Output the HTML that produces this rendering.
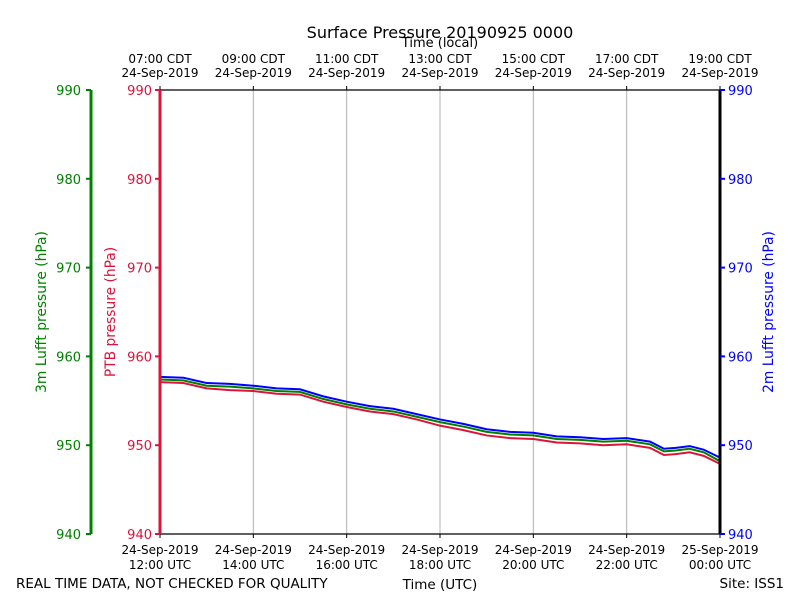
<!DOCTYPE html>
<html><head><meta charset="utf-8"><style>
body{margin:0;background:#fff}
svg{font-family:"DejaVu Sans","Liberation Sans",sans-serif}
</style></head><body>
<svg id="chart" width="800" height="600" xmlns="http://www.w3.org/2000/svg">
<rect width="800" height="600" fill="#fff"/>
<text x="440" y="38" font-size="16" text-anchor="middle">Surface Pressure 20190925 0000</text>
<text x="440" y="47" font-size="13" text-anchor="middle">Time (local)</text>
<text x="440" y="589" font-size="13.5" text-anchor="middle">Time (UTC)</text>
<text x="16" y="588" font-size="13.5">REAL TIME DATA, NOT CHECKED FOR QUALITY</text>
<text x="784" y="588" font-size="13.5" text-anchor="end">Site: ISS1</text>
<g id="grid"></g><g id="series"></g><g id="axes"></g>
</svg>
<script>
const hours=[0,0.5,1,1.5,2,2.5,3,3.5,4,4.5,5,5.5,6,6.5,7,7.5,8,8.5,9,9.5,10,10.5,10.8,11.05,11.35,11.65,12];
const blue=[957.7,957.6,957.0,956.9,956.7,956.4,956.3,955.5,954.9,954.4,954.1,953.5,952.9,952.4,951.8,951.5,951.4,951.0,950.9,950.7,950.8,950.4,949.6,949.7,949.9,949.5,948.6];
const green=[957.4,957.3,956.7,956.6,956.4,956.1,956.0,955.2,954.6,954.1,953.8,953.2,952.6,952.1,951.5,951.2,951.1,950.7,950.6,950.4,950.5,950.1,949.3,949.4,949.6,949.2,948.2];
const red=[957.1,957.0,956.4,956.2,956.1,955.8,955.7,954.9,954.3,953.8,953.5,952.9,952.2,951.7,951.1,950.8,950.7,950.3,950.2,950.0,950.1,949.7,948.9,949.0,949.2,948.8,947.9];
const yTicks=[940,950,960,970,980,990];
const bottomLabels=[["24-Sep-2019","12:00 UTC"],["24-Sep-2019","14:00 UTC"],["24-Sep-2019","16:00 UTC"],["24-Sep-2019","18:00 UTC"],["24-Sep-2019","20:00 UTC"],["24-Sep-2019","22:00 UTC"],["25-Sep-2019","00:00 UTC"]];
const topLabels=["07:00 CDT","09:00 CDT","11:00 CDT","13:00 CDT","15:00 CDT","17:00 CDT","19:00 CDT"];
const L=160,R=720,T=90,B=534;
const xs=h=>L+(R-L)*h/12, ys=v=>B-(B-T)*(v-940)/50;
const NS="http://www.w3.org/2000/svg";
function mk(p,tag,a,txt){const e=document.createElementNS(NS,tag);for(const k in a)e.setAttribute(k,a[k]);if(txt!==undefined)e.textContent=txt;p.appendChild(e);return e;}
const grid=document.getElementById('grid'),ser=document.getElementById('series'),ax=document.getElementById('axes');
bottomLabels.forEach((lb,i)=>{const x=xs(i*2);
 if(i>0&&i<6){const g=mk(grid,'line',{x1:x,x2:x,y1:T,y2:B,stroke:'#b0b0b0','stroke-width':1});
 
 }
 mk(ax,'line',{x1:x,x2:x,y1:B,y2:B+4,stroke:'#000'});
 const t1=mk(ax,'text',{x:x,y:554,'font-size':12,'text-anchor':'middle'},lb[0]);
 
 
 const t2=mk(ax,'text',{x:x,y:569,'font-size':12,'text-anchor':'middle'},lb[1]);
 
 
 mk(ax,'line',{x1:x,x2:x,y1:T,y2:T-4,stroke:'#000'});
 const t3=mk(ax,'text',{x:x,y:63,'font-size':12,'text-anchor':'middle'},topLabels[i]);
 
 
 const t4=mk(ax,'text',{x:x,y:77,'font-size':12,'text-anchor':'middle'},'24-Sep-2019');
 
 
});
[[red,'#dc143c','ptb-series'],[green,'green','lufft-3m-series'],[blue,'blue','lufft-2m-series']].forEach(([d,c,n])=>{
 const p=mk(ser,'polyline',{points:d.map((v,i)=>xs(hours[i])+','+ys(v)).join(' '),fill:'none',stroke:c,'stroke-width':2});
 
 
});
mk(ax,'line',{x1:L,x2:R,y1:T,y2:T,stroke:'#000','stroke-width':1.2});
mk(ax,'line',{x1:L,x2:R,y1:B,y2:B,stroke:'#000','stroke-width':1.2});
mk(ax,'line',{x1:L,x2:L,y1:T,y2:B,stroke:'#dc143c','stroke-width':3});
mk(ax,'line',{x1:R,x2:R,y1:T,y2:B,stroke:'#000','stroke-width':3});
mk(ax,'line',{x1:91,x2:91,y1:T,y2:B,stroke:'green','stroke-width':3});
yTicks.forEach(v=>{const y=ys(v);
 mk(ax,'line',{x1:L-5,x2:L,y1:y,y2:y,stroke:'#dc143c','stroke-width':2});
 const a=mk(ax,'text',{x:L-8,y:y+5,'font-size':13,'text-anchor':'end',fill:'#dc143c'},v);
 
 
 mk(ax,'line',{x1:R,x2:R+5,y1:y,y2:y,stroke:'blue','stroke-width':2});
 const b=mk(ax,'text',{x:R+8,y:y+5,'font-size':13,fill:'blue'},v);
 
 
 mk(ax,'line',{x1:86,x2:91,y1:y,y2:y,stroke:'green','stroke-width':2});
 const c=mk(ax,'text',{x:81,y:y+5,'font-size':13,'text-anchor':'end',fill:'green'},v);
 
 
});
const yt=[[46,'green','3m Lufft pressure (hPa)','lufft-3m-axis-title'],[115,'#dc143c','PTB pressure (hPa)','ptb-axis-title'],[773,'blue','2m Lufft pressure (hPa)','lufft-2m-axis-title']];
yt.forEach(([x,c,s,n])=>{const e=mk(ax,'text',{x:x,y:312,'font-size':13.8,'text-anchor':'middle',fill:c,transform:`rotate(-90 ${x} 312)`},s);
 
 });
</script>
</body></html>
